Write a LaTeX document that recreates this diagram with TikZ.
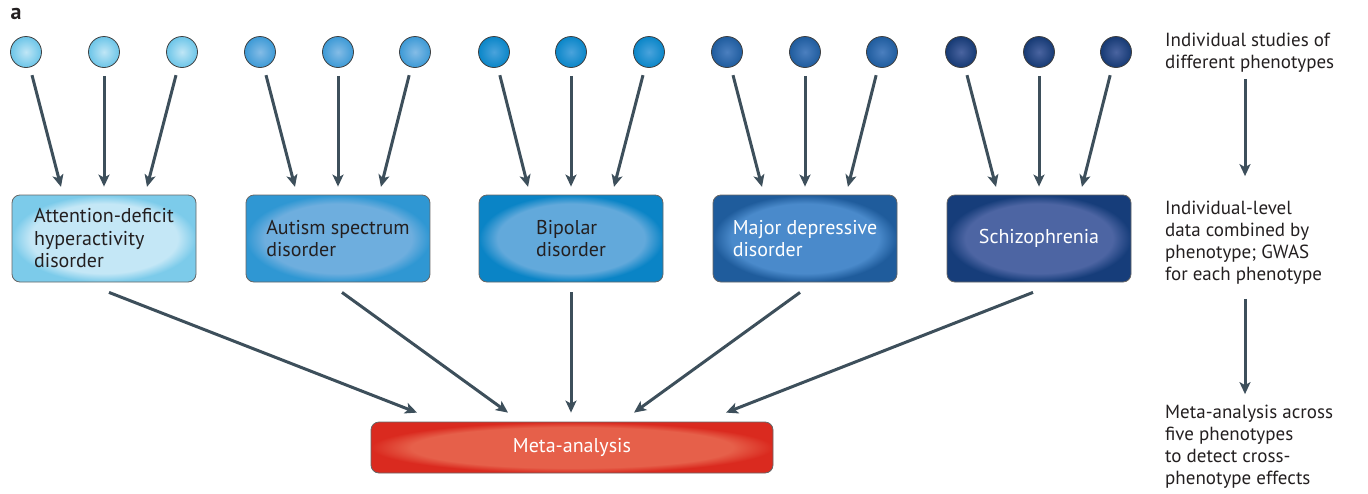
\documentclass[tikz,border=0pt]{standalone}
\usepackage{fontspec}
\setmainfont{PT Sans}
\usetikzlibrary{arrows.meta}

\definecolor{arrowc}{HTML}{3D4F5B}
\definecolor{inka}{HTML}{231F20}
\colorlet{glowin}{white}
\colorlet{glowout}{black}
\pgfdeclareradialshading[glowin,glowout]{boxglow}{\pgfpoint{0bp}{0bp}}{color(0bp)=(glowin); color(20bp)=(glowin); color(25bp)=(glowout); color(50bp)=(glowout)}
\pgfdeclareradialshading[glowin,glowout]{ballglow}{\pgfpoint{0bp}{0bp}}{color(0bp)=(glowin); color(25bp)=(glowout); color(50bp)=(glowout)}

\tikzset{
  glow/.code 2 args={\definecolor{glowin}{HTML}{#1}\definecolor{glowout}{HTML}{#2}},
  study/.style={circle, draw=black!75, line width=0.8pt, minimum size=31pt, inner sep=0pt, shade, shading=ballglow},
  phen/.style={rectangle, rounded corners=8pt, draw=black!60, line width=0.8pt, minimum width=184pt, minimum height=87pt, align=left, shade, shading=boxglow, text=inka, font=\fontsize{20}{22.5}\selectfont},
  arr/.style={draw=arrowc, line width=3pt, -{Stealth[length=12pt,width=11pt,inset=3pt]}},
  note/.style={anchor=west, align=left, inner sep=0pt, text=inka, font=\fontsize{19}{22}\selectfont},
}

\begin{document}
\begin{tikzpicture}[x=1pt,y=-1pt]
\useasboundingbox (0,0) rectangle (1368,493);
\node[font=\bfseries\fontsize{22}{22}\selectfont, text=inka] (lbl) at (16,14) {a};

% studies
\node[study, glow={BFE6F6}{6CC5E8}] (s1a) at (26,52) {};
\node[study, glow={BFE6F6}{6CC5E8}] (s1b) at (104,52) {};
\node[study, glow={BFE6F6}{6CC5E8}] (s1c) at (182,52) {};
\node[study, glow={84BCE6}{3D9AD6}] (s2a) at (260,52) {};
\node[study, glow={84BCE6}{3D9AD6}] (s2b) at (338,52) {};
\node[study, glow={84BCE6}{3D9AD6}] (s2c) at (415,52) {};
\node[study, glow={4AA3DC}{0A86C8}] (s3a) at (494,52) {};
\node[study, glow={4AA3DC}{0A86C8}] (s3b) at (571,52) {};
\node[study, glow={4AA3DC}{0A86C8}] (s3c) at (649,52) {};
\node[study, glow={4B7FBF}{1F5C9E}] (s4a) at (727,52) {};
\node[study, glow={4B7FBF}{1F5C9E}] (s4b) at (805,52) {};
\node[study, glow={4B7FBF}{1F5C9E}] (s4c) at (882,52) {};
\node[study, glow={4A64A0}{163A74}] (s5a) at (961,52) {};
\node[study, glow={4A64A0}{163A74}] (s5b) at (1039,52) {};
\node[study, glow={4A64A0}{163A74}] (s5c) at (1116,52) {};

% phenotypes
\node[phen, glow={C4E7F6}{7CCBEA}] (b1) at (104,238.5) {Attention-deficit\\hyperactivity\\disorder};
\node[phen, glow={6EAEDE}{2F97D3}] (b2) at (338,238.5) {Autism spectrum\\disorder};
\node[phen, glow={62A9DB}{0A84C6}] (b3) at (571,238.5) {Bipolar\\disorder};
\node[phen, glow={4A8ACB}{1F5C9C}, text=white] (b4) at (805,238.5) {Major depressive\\disorder};
\node[phen, glow={4D65A3}{163D7A}, text=white] (b5) at (1039,238.5) {Schizophrenia};

\node[phen, glow={E6604A}{DA2A1F}, text=white, minimum width=402pt, minimum height=51pt] (meta) at (572,447.5) {Meta-analysis};

\draw[arr, shorten <=8pt, shorten >=8pt] (s1a) -- ([xshift=-41pt]b1.north);
\draw[arr, shorten <=8pt, shorten >=8pt] (s1b) -- (b1.north);
\draw[arr, shorten <=8pt, shorten >=8pt] (s1c) -- ([xshift=41pt]b1.north);
\draw[arr, shorten <=8pt, shorten >=8pt] (s2a) -- ([xshift=-41pt]b2.north);
\draw[arr, shorten <=8pt, shorten >=8pt] (s2b) -- (b2.north);
\draw[arr, shorten <=8pt, shorten >=8pt] (s2c) -- ([xshift=41pt]b2.north);
\draw[arr, shorten <=8pt, shorten >=8pt] (s3a) -- ([xshift=-41pt]b3.north);
\draw[arr, shorten <=8pt, shorten >=8pt] (s3b) -- (b3.north);
\draw[arr, shorten <=8pt, shorten >=8pt] (s3c) -- ([xshift=41pt]b3.north);
\draw[arr, shorten <=8pt, shorten >=8pt] (s4a) -- ([xshift=-41pt]b4.north);
\draw[arr, shorten <=8pt, shorten >=8pt] (s4b) -- (b4.north);
\draw[arr, shorten <=8pt, shorten >=8pt] (s4c) -- ([xshift=41pt]b4.north);
\draw[arr, shorten <=8pt, shorten >=8pt] (s5a) -- ([xshift=-41pt]b5.north);
\draw[arr, shorten <=8pt, shorten >=8pt] (s5b) -- (b5.north);
\draw[arr, shorten <=8pt, shorten >=8pt] (s5c) -- ([xshift=41pt]b5.north);

\draw[arr] ([shift={(5,10)}]b1.south) -- ([shift={(-155,-9)}]meta.north);
\draw[arr] ([shift={(4,10)}]b2.south) -- ([shift={(-64,-9)}]meta.north);
\draw[arr] ([shift={(0,10)}]b3.south) -- ([shift={(-1,-9)}]meta.north);
\draw[arr] ([shift={(-5,10)}]b4.south) -- ([shift={(62,-9)}]meta.north);
\draw[arr] ([shift={(-6,10)}]b5.south) -- ([shift={(154,-9)}]meta.north);

% steps on the right
\node[note] (t1) at (1165,53) {Individual studies of\\different phenotypes};
\node[note] (t2) at (1165,243) {Individual-level\\data combined by\\phenotype; GWAS\\for each phenotype};
\node[note] (t3) at (1165,447) {Meta-analysis across\\five phenotypes\\to detect cross-\\phenotype effects};
\coordinate (ax) at (1245,0);
\draw[arr, shorten <=6pt, shorten >=25pt] (t1.south -| ax) -- (t2.north -| ax);
\draw[arr, shorten <=14pt, shorten >=11pt] (t2.south -| ax) -- (t3.north -| ax);
\end{tikzpicture}
\end{document}
